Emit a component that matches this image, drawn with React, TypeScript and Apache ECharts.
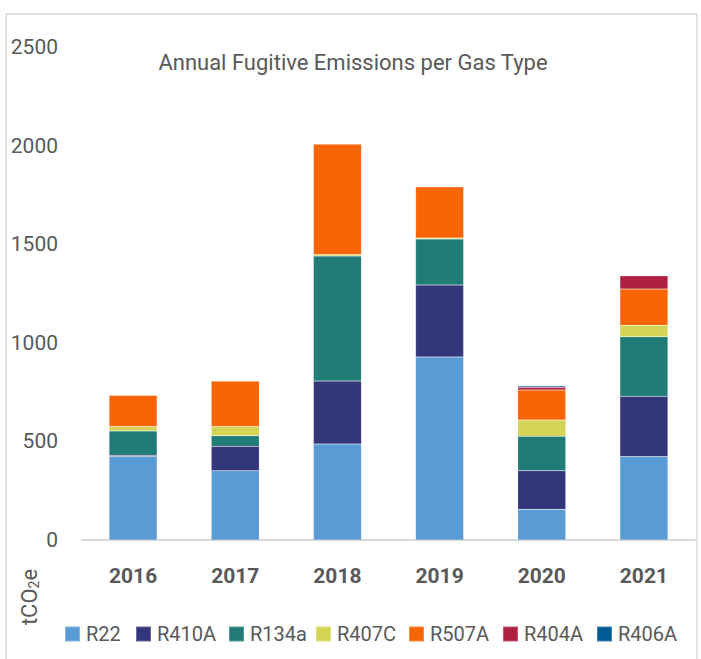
import React, { useEffect, useRef } from "react";
import * as echarts from "echarts";

const years = ["2016", "2017", "2018", "2019", "2020", "2021"];
const r22 = [424, 351, 487, 928, 156, 423];
const r410a = [6, 124, 319, 365, 195, 306];
const r134a = [123, 54, 634, 233, 175, 302];
const r407c = [22, 46, 8, 5, 82, 58];
const r507a = [159, 231, 560, 260, 153, 184];
const r404a = [0, 0, 0, 0, 13, 67];
const r406a = [0, 0, 0, 0, 7, 0];
const yTicks = [0, 500, 1000, 1500, 2000, 2500];

const seriesDefs = [
  { name: "R22", data: r22, color: "#5B9BD5" },
  { name: "R410A", data: r410a, color: "#33367A" },
  { name: "R134a", data: r134a, color: "#217B76" },
  { name: "R407C", data: r407c, color: "#D4D455" },
  { name: "R507A", data: r507a, color: "#F96503" },
  { name: "R404A", data: r404a, color: "#AE2140" },
  { name: "R406A", data: r406a, color: "#005A96" },
];
const legendLefts = [64, 135, 228, 315, 408, 502, 596];

const FONT = "Roboto, 'Noto Sans', sans-serif";

export default function App() {
  const ref = useRef<HTMLDivElement>(null);
  useEffect(() => {
    if (!ref.current) return;
    const chart = echarts.init(ref.current, null, { renderer: "svg" });
    chart.setOption({
      animation: false,
      backgroundColor: "#ffffff",
      textStyle: { fontFamily: FONT },
      title: {
        text: "Annual Fugitive Emissions per Gas Type",
        left: 348,
        textAlign: "center",
        top: 46,
        textStyle: { fontFamily: FONT, fontSize: 22, fontWeight: "normal", color: "#595959" },
      },
      grid: { left: 82, right: 6, top: 47, bottom: 119, containLabel: false },
      legend: seriesDefs.map((s, i) => ({
        left: legendLefts[i],
        top: 624,
        padding: 0,
        itemWidth: 15,
        itemHeight: 15,
        itemGap: 0,
        icon: "rect",
        textStyle: { fontFamily: FONT, fontSize: 20, color: "#595959", padding: [0, 0, 0, 1] },
        data: [s.name],
      })),
      xAxis: {
        type: "category",
        data: years,
        axisLine: { lineStyle: { color: "#D9D9D9", width: 2 } },
        axisTick: { show: false },
        axisLabel: { fontFamily: FONT, fontSize: 21, fontWeight: "bold", color: "#595959", margin: 25 },
      },
      yAxis: {
        type: "value",
        min: yTicks[0],
        max: yTicks[yTicks.length - 1],
        interval: 500,
        axisLine: { show: false },
        axisTick: { show: false },
        splitLine: { show: false },
        axisLabel: {
          fontFamily: FONT,
          fontSize: 21,
          color: "#595959",
          margin: 24,
          formatter: (v: number) => String(v),
        },
      },
      graphic: [
        {
          type: "rect",
          shape: { x: 6, y: 14, width: 691, height: 660 },
          style: { fill: "none", stroke: "#D9D9D9", lineWidth: 1.5 },
          silent: true,
        },
        {
          type: "text",
          x: 29,
          y: 597,
          rotation: Math.PI / 2,
          style: {
            text: "tCO{sub|2}e",
            fill: "#595959",
            font: "22px " + FONT,
            align: "center",
            verticalAlign: "middle",
            rich: {
              sub: { fontSize: 14, fill: "#595959", fontFamily: FONT, padding: [10, 0, 0, 0] },
            },
          },
        },
      ],
      series: seriesDefs.map((s) => ({
        name: s.name,
        type: "bar",
        stack: "total",
        barWidth: "47%",
        data: s.data,
        itemStyle: { color: s.color, borderColor: "rgba(255,255,255,0.25)", borderWidth: 0.5 },
      })),
    });
    return () => chart.dispose();
  }, []);
  return <div ref={ref} style={{ width: 701, height: 659, position: "absolute", left: 0, top: 0 }} />;
}
